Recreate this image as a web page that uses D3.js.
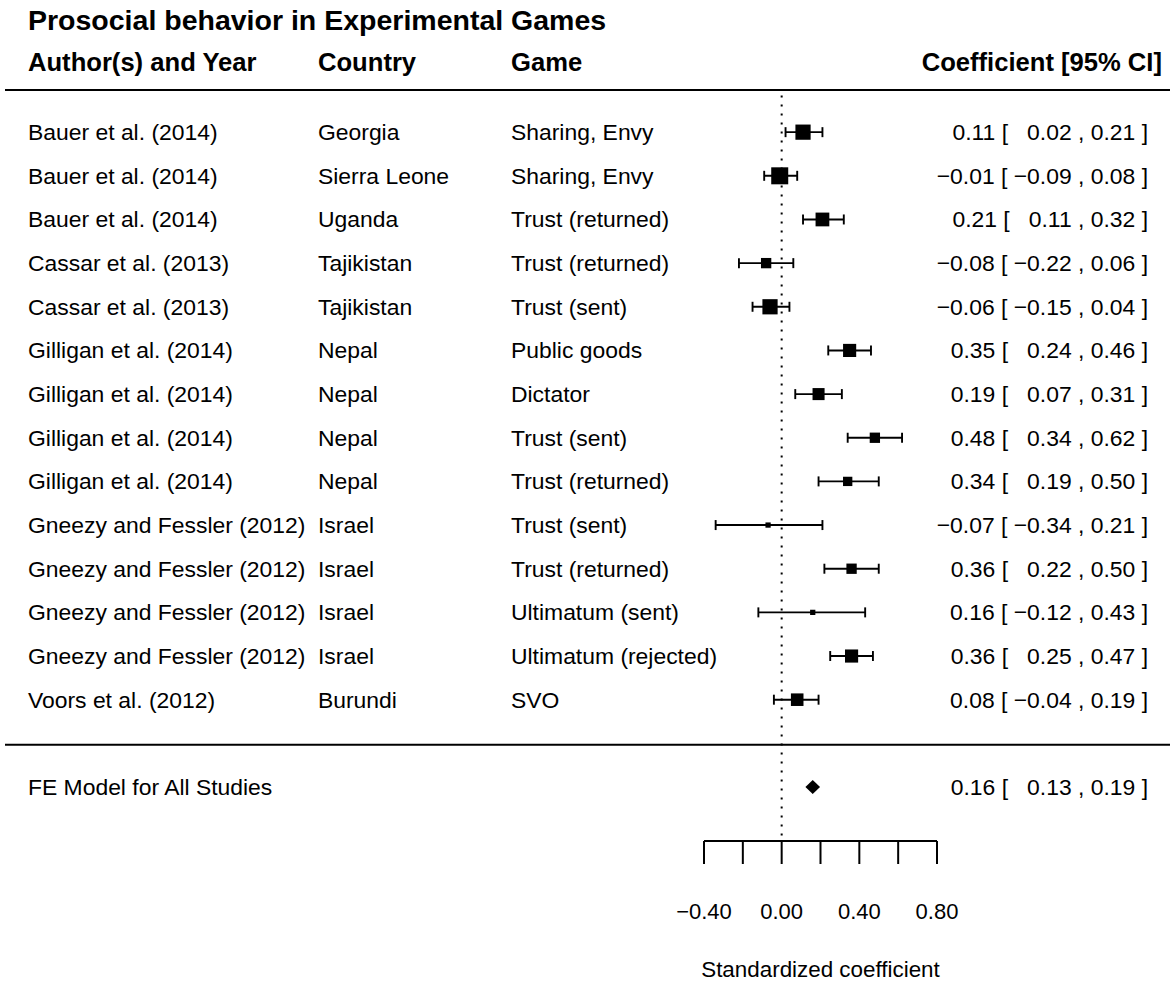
<!DOCTYPE html>
<html>
<head>
<meta charset="utf-8">
<script src="https://cdn.jsdelivr.net/npm/d3@7"></script>
<style>
  html, body { margin: 0; padding: 0; background: #fff; }
  svg { display: block; font-family: "Liberation Sans", Arial, Helvetica, sans-serif; }
  text { white-space: pre; }
</style>
</head>
<body>
<svg id="chart" width="1170" height="985"></svg>
<script>
const title = "Prosocial behavior in Experimental Games";
const headers = ["Author(s) and Year", "Country", "Game", "Coefficient [95% CI]"];
const authors = [
  "Bauer et al. (2014)", "Bauer et al. (2014)", "Bauer et al. (2014)",
  "Cassar et al. (2013)", "Cassar et al. (2013)",
  "Gilligan et al. (2014)", "Gilligan et al. (2014)", "Gilligan et al. (2014)", "Gilligan et al. (2014)",
  "Gneezy and Fessler (2012)", "Gneezy and Fessler (2012)", "Gneezy and Fessler (2012)", "Gneezy and Fessler (2012)",
  "Voors et al. (2012)"
];
const countries = [
  "Georgia", "Sierra Leone", "Uganda", "Tajikistan", "Tajikistan",
  "Nepal", "Nepal", "Nepal", "Nepal", "Israel", "Israel", "Israel", "Israel", "Burundi"
];
const games = [
  "Sharing, Envy", "Sharing, Envy", "Trust (returned)", "Trust (returned)", "Trust (sent)",
  "Public goods", "Dictator", "Trust (sent)", "Trust (returned)",
  "Trust (sent)", "Trust (returned)", "Ultimatum (sent)", "Ultimatum (rejected)", "SVO"
];
const estimates = [0.11, -0.01, 0.21, -0.08, -0.06, 0.35, 0.19, 0.48, 0.34, -0.07, 0.36, 0.16, 0.36, 0.08];
const lowers    = [0.02, -0.09, 0.11, -0.22, -0.15, 0.24, 0.07, 0.34, 0.19, -0.34, 0.22, -0.12, 0.25, -0.04];
const uppers    = [0.21,  0.08, 0.32,  0.06,  0.04, 0.46, 0.31, 0.62, 0.50,  0.21, 0.50,  0.43, 0.47,  0.19];
const summaryLabel = "FE Model for All Studies";
const summaryEst = 0.16, summaryLower = 0.13, summaryUpper = 0.19;
const axisTicks = [-0.4, -0.2, 0, 0.2, 0.4, 0.6, 0.8];
const axisTickLabels = ["\u22120.40", "", "0.00", "", "0.40", "", "0.80"];
const axisTitle = "Standardized coefficient";

const svg = d3.select("#chart");
const n = estimates.length;

const x = d3.scaleLinear().domain([-0.4, 0.8]).range([704, 937]);
const y = d3.scaleLinear().domain([0, 16]).range([88.5, 787]);

const precision = lowers.map((l, i) => 3.92 / (uppers[i] - l));
const boxSize = d3.scaleLinear().domain([0, d3.max(precision)]).range([0, 17]);

const fmt = v => (v < 0 ? "\u2212" : "") + Math.abs(v).toFixed(2);
const fmtPad = v => (v < 0 ? "" : "\u2007") + fmt(v);
const ciText = (e, l, u) => fmt(e) + " [ " + fmtPad(l) + " , " + fmt(u) + " ]";

const colX = [28, 318, 511];
const rightX = 1148;
const bodySize = 22.9;

// Title and headers
svg.append("text").attr("x", 28).attr("y", 29.5)
  .attr("font-size", 28.5).attr("font-weight", "bold").text(title);
headers.slice(0, 3).forEach((h, i) => {
  svg.append("text").attr("x", colX[i]).attr("y", 71)
    .attr("font-size", 25.6).attr("font-weight", "bold").text(h);
});
svg.append("text").attr("x", 1162).attr("y", 71).attr("text-anchor", "end")
  .attr("font-size", 25.6).attr("font-weight", "bold").text(headers[3]);

// Divider lines
[y(0) + 1.5, y(15) + 1.5].forEach(yy => {
  svg.append("line").attr("x1", 5).attr("x2", 1170).attr("y1", yy).attr("y2", yy)
    .attr("stroke", "#000").attr("stroke-width", 2);
});

// Reference dotted line
svg.append("line").attr("x1", x(0)).attr("x2", x(0))
  .attr("y1", y(0) + 7).attr("y2", 841)
  .attr("stroke", "#000").attr("stroke-width", 2).attr("stroke-dasharray", "2,7");

// Row texts
const rows = d3.range(n);
const textG = svg.append("g").attr("font-size", bodySize).attr("fill", "#000");
rows.forEach(i => {
  const yy = y(i + 1);
  textG.append("text").attr("x", colX[0]).attr("y", yy).attr("dy", "0.35em").text(authors[i]);
  textG.append("text").attr("x", colX[1]).attr("y", yy).attr("dy", "0.35em").text(countries[i]);
  textG.append("text").attr("x", colX[2]).attr("y", yy).attr("dy", "0.35em").text(games[i]);
  textG.append("text").attr("x", rightX).attr("y", yy).attr("dy", "0.35em").attr("text-anchor", "end")
    .text(ciText(estimates[i], lowers[i], uppers[i]));
});

// CI lines and boxes
const marks = svg.append("g").attr("stroke", "#000").attr("stroke-width", 1.9);
rows.forEach(i => {
  const yy = y(i + 1);
  marks.append("line").attr("x1", x(lowers[i])).attr("x2", x(uppers[i])).attr("y1", yy).attr("y2", yy);
  [lowers[i], uppers[i]].forEach(v => {
    marks.append("line").attr("x1", x(v)).attr("x2", x(v)).attr("y1", yy - 5).attr("y2", yy + 5);
  });
  const s = boxSize(precision[i]);
  svg.append("rect").attr("x", x(estimates[i]) - s / 2).attr("y", yy - s / 2)
    .attr("width", s).attr("height", s).attr("fill", "#000");
});

// Summary row
const ys = y(16);
textG.append("text").attr("x", colX[0]).attr("y", ys).attr("dy", "0.35em").text(summaryLabel);
textG.append("text").attr("x", rightX).attr("y", ys).attr("dy", "0.35em").attr("text-anchor", "end")
  .text(ciText(summaryEst, summaryLower, summaryUpper));
svg.append("polygon")
  .attr("points", [
    [x(summaryLower) - 1.5, ys], [x(summaryEst), ys - 7], [x(summaryUpper) + 1.5, ys], [x(summaryEst), ys + 7]
  ].map(p => p.join(",")).join(" "))
  .attr("fill", "#000");

// Axis
const axisY = 841;
const ax = svg.append("g").attr("stroke", "#000").attr("stroke-width", 2);
ax.append("line").attr("x1", x(axisTicks[0])).attr("x2", x(axisTicks[axisTicks.length - 1]))
  .attr("y1", axisY).attr("y2", axisY);
axisTicks.forEach(t => {
  ax.append("line").attr("x1", x(t)).attr("x2", x(t)).attr("y1", axisY).attr("y2", axisY + 23);
});
axisTicks.forEach((t, i) => {
  if (!axisTickLabels[i]) return;
  svg.append("text").attr("x", x(t)).attr("y", 911).attr("dy", "0.35em")
    .attr("text-anchor", "middle").attr("font-size", 22).text(axisTickLabels[i]);
});
svg.append("text").attr("x", (x(-0.4) + x(0.8)) / 2).attr("y", 969).attr("dy", "0.35em")
  .attr("text-anchor", "middle").attr("font-size", 22.4).text(axisTitle);
</script>
</body>
</html>
